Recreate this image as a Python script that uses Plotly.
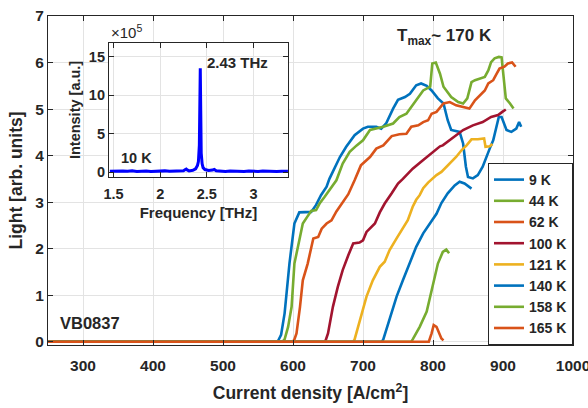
import plotly.graph_objects as go

# ---------------- data ----------------
temps = ["9 K", "44 K", "62 K", "100 K", "121 K", "140 K", "158 K", "165 K"]
colors = ["#0072BD", "#77AC30", "#D95319", "#A2142F", "#EDB120", "#0072BD", "#77AC30", "#D95319"]

j_9K = [250, 578, 583, 588, 595, 602, 609, 626, 633, 640, 648, 652, 667, 676, 688, 700, 707, 719, 726, 733,
        743, 750, 760, 767, 776, 783, 791, 798, 807, 815, 821, 826, 838, 843, 847, 850, 857, 864, 871, 876,
        881, 886, 891, 894, 898, 901, 905, 912, 919, 923, 926]
l_9K = [0, 0, 0.15, 0.61, 1.69, 2.54, 2.78, 2.79, 2.94, 3.15, 3.33, 3.50, 3.97, 4.19, 4.44, 4.58, 4.62, 4.62, 4.58, 4.69,
        5.01, 5.20, 5.26, 5.33, 5.51, 5.55, 5.50, 5.40, 5.23, 5.12, 4.76, 4.55, 4.51, 4.26, 3.76, 3.54, 3.51, 3.58, 3.76, 3.97,
        4.15, 4.33, 4.62, 4.83, 4.83, 4.69, 4.55, 4.51, 4.58, 4.72, 4.62]

j_44K = [250, 585, 588, 593, 598, 602, 610, 614, 621, 626, 633, 638, 645, 652, 662, 671, 681, 691, 700, 710,
         719, 729, 743, 752, 762, 769, 776, 786, 796, 799, 804, 810, 815, 826, 836, 843, 849, 855, 860, 867,
         874, 879, 883, 888, 894, 898, 901, 904, 910, 915]
l_44K = [0, 0, 0.05, 0.32, 0.75, 1.68, 2.25, 2.54, 2.70, 2.81, 2.83, 2.97, 3.11, 3.25, 3.47, 3.83, 4.08, 4.22, 4.33, 4.55,
         4.58, 4.62, 4.69, 4.83, 4.90, 5.05, 5.19, 5.40, 5.48, 5.98, 6.00, 5.76, 5.48, 5.26, 5.15, 5.12, 5.23, 5.58, 5.62, 5.66,
         5.69, 5.83, 6.01, 6.09, 6.12, 6.11, 5.66, 5.23, 5.12, 5.01]

j_62K = [250, 600, 602, 605, 610, 614, 621, 629, 636, 641, 648, 655, 662, 669, 679, 688, 697, 710, 719, 729,
         741, 752, 762, 769, 779, 786, 793, 798, 805, 815, 824, 833, 843, 852, 860, 867, 874, 879, 886, 891,
         895, 902, 907, 913, 918]
l_62K = [0, 0, 0.05, 0.18, 0.75, 1.32, 1.68, 2.22, 2.25, 2.43, 2.54, 2.61, 2.80, 2.96, 3.17, 3.47, 3.79, 3.97, 4.15, 4.22,
         4.42, 4.46, 4.47, 4.62, 4.65, 4.72, 4.76, 4.90, 4.94, 5.12, 5.15, 5.08, 5.05, 5.01, 5.19, 5.30, 5.40, 5.55, 5.62, 5.76,
         5.87, 5.91, 5.98, 6.00, 5.91]

j_100K = [250, 646, 650, 657, 664, 671, 679, 686, 695, 700, 705, 712, 717, 724, 731, 741, 750, 757, 767, 771,
          783, 793, 800, 810, 814, 829, 843, 857, 871, 883, 893, 899, 904]
l_100K = [0, 0, 0.18, 0.75, 1.18, 1.54, 1.86, 2.11, 2.13, 2.18, 2.36, 2.47, 2.54, 2.78, 2.97, 3.19, 3.40, 3.50, 3.65, 3.72,
          3.87, 3.99, 4.08, 4.20, 4.22, 4.40, 4.55, 4.65, 4.72, 4.83, 4.87, 4.94, 4.99]

j_121K = [250, 686, 688, 693, 698, 705, 714, 724, 731, 738, 748, 757, 764, 771, 776, 781, 786, 793, 805, 812,
          824, 833, 841, 848, 855, 864, 873, 875, 881, 885]
l_121K = [0, 0, 0.05, 0.32, 0.61, 0.97, 1.32, 1.61, 1.72, 1.97, 2.22, 2.43, 2.61, 2.90, 3.05, 3.15, 3.30, 3.42, 3.58, 3.65,
          3.83, 3.97, 4.12, 4.22, 4.35, 4.35, 4.37, 4.19, 4.20, 4.25]

j_140K = [250, 727, 729, 733, 741, 748, 757, 767, 776, 786, 795, 805, 812, 821, 831, 838, 845, 855]
l_140K = [0, 0, 0.05, 0.25, 0.61, 0.97, 1.32, 1.68, 2.04, 2.33, 2.54, 2.75, 2.98, 3.19, 3.36, 3.44, 3.40, 3.29]

j_158K = [250, 769, 771, 781, 791, 800, 807, 814, 819, 823]
l_158K = [0, 0, 0.05, 0.32, 0.65, 1.25, 1.68, 1.93, 1.98, 1.90]

j_165K = [250, 794, 798, 801, 805, 809, 812, 815]
l_165K = [0, 0, 0.18, 0.36, 0.32, 0.18, 0.07, 0.03]

x_ticks = [300, 400, 500, 600, 700, 800, 900, 1000]
y_ticks = [0, 1, 2, 3, 4, 5, 6, 7]

# inset spectrum (intensity in units of 1e5)
freq = [1.46, 1.50, 1.55, 1.60, 1.65, 1.70, 1.75, 1.80, 1.85, 1.90, 1.95, 2.00, 2.05, 2.10, 2.15, 2.20, 2.25, 2.27,
        2.28, 2.29, 2.31, 2.35, 2.38, 2.40, 2.41, 2.42, 2.425, 2.43, 2.435, 2.44, 2.45, 2.46, 2.48, 2.52, 2.56, 2.58,
        2.60, 2.65, 2.70, 2.75, 2.80, 2.85, 2.90, 2.95, 3.00, 3.05, 3.10, 3.15, 3.20, 3.25, 3.30, 3.37]
intens = [0.12, 0.15, 0.10, 0.16, 0.12, 0.18, 0.11, 0.14, 0.17, 0.10, 0.15, 0.13, 0.18, 0.12, 0.16, 0.14, 0.20, 0.35,
          0.42, 0.30, 0.18, 0.25, 0.45, 0.90, 1.40, 3.5, 9.0, 13.5, 8.0, 2.5, 1.1, 0.6, 0.35, 0.22, 0.28, 0.38,
          0.20, 0.14, 0.11, 0.17, 0.12, 0.15, 0.10, 0.16, 0.13, 0.11, 0.17, 0.12, 0.15, 0.10, 0.14, 0.12]
inset_x_ticks = [1.5, 2, 2.5, 3]
inset_y_ticks = [0, 5, 10, 15]

series_j = [j_9K, j_44K, j_62K, j_100K, j_121K, j_140K, j_158K, j_165K]
series_l = [l_9K, l_44K, l_62K, l_100K, l_121K, l_140K, l_158K, l_165K]

# ---------------- figure ----------------
FONT = "Liberation Sans, Arial, sans-serif"
AX = "#262626"
GRID = "#e3e3e3"

fig = go.Figure()
for name, c, xs, ys in zip(temps, colors, series_j, series_l):
    fig.add_trace(go.Scatter(x=xs, y=ys, mode="lines", name=name,
                             line=dict(color=c, width=2.6), xaxis="x", yaxis="y"))

fig.add_trace(go.Scatter(x=freq, y=intens, mode="lines", showlegend=False,
                         line=dict(color="#0000FF", width=3), xaxis="x2", yaxis="y2"))

common = dict(showline=True, linecolor=AX, linewidth=1, mirror="ticks", ticks="inside",
              ticklen=5, tickcolor=AX, showgrid=True, gridcolor=GRID, zeroline=False,
              automargin=False, ticklabeloverflow="allow")

fig.update_layout(
    width=588, height=408,
    margin=dict(l=48, r=15, t=16, b=63),
    paper_bgcolor="white", plot_bgcolor="white",
    font=dict(family=FONT, color=AX),
    xaxis=dict(range=[250, 1000], tickvals=x_ticks, domain=[0, 1],
               tickfont=dict(size=15.5, weight="bold", color=AX), ticklabelstandoff=6,
               title=dict(text="Current density [A/cm<sup>2</sup>]", font=dict(size=17.5, weight="bold", color=AX),
                          standoff=14),
               **common),
    yaxis=dict(range=[-0.07, 7], tickvals=y_ticks, domain=[0, 1],
               tickfont=dict(size=15.5, weight="bold", color=AX),
               title=dict(text="Light [arb. units]", font=dict(size=17.5, weight="bold", color=AX),
                          standoff=8),
               **common),
    xaxis2=dict(range=[1.45, 3.37], tickvals=inset_x_ticks, domain=[0.116, 0.457], anchor="y2",
                tickfont=dict(size=14.5, weight="bold", color=AX), ticklabelstandoff=4,
                title=dict(text="Frequency [THz]", font=dict(size=15, weight="bold", color=AX), standoff=6),
                **common),
    yaxis2=dict(range=[-0.6, 16.8], tickvals=inset_y_ticks, domain=[0.511, 0.918], anchor="x2",
                tickfont=dict(size=14.5, weight="bold", color=AX),
                title=dict(text="Intensity [a.u.]", font=dict(size=14.5, weight="bold", color=AX), standoff=4),
                **common),
    legend=dict(x=1, y=0, xanchor="right", yanchor="bottom", xref="paper", yref="paper",
                bgcolor="white", bordercolor=AX, borderwidth=1, entrywidth=52, entrywidthmode="pixels",
                font=dict(size=14, weight="bold", color=AX), tracegroupgap=0),
    showlegend=True,
)

fig.add_annotation(text="×10<sup>5</sup>", xref="x2", yref="y2", x=1.45, y=16.8,
                   xanchor="left", yanchor="bottom", showarrow=False,
                   font=dict(size=15, color=AX))
fig.add_annotation(text="<b>2.43 THz</b>", xref="x2", yref="y2", x=2.83, y=14.3,
                   showarrow=False, font=dict(size=15, color=AX))
fig.add_annotation(text="<b>10 K</b>", xref="x2", yref="y2", x=1.75, y=1.8,
                   showarrow=False, font=dict(size=14.5, color=AX))
fig.add_annotation(text="<b>VB0837</b>", xref="x", yref="y", x=264, y=0.40,
                   xanchor="left", showarrow=False, font=dict(size=16.5, color=AX))
fig.add_annotation(text="<b>T<sub>max</sub>~ 170 K</b>", xref="x", yref="y", x=816, y=6.55,
                   showarrow=False, font=dict(size=17, color=AX))

fig.write_html("out.html", config={"displayModeBar": False},
               post_script="document.body.style.margin='0px';")
